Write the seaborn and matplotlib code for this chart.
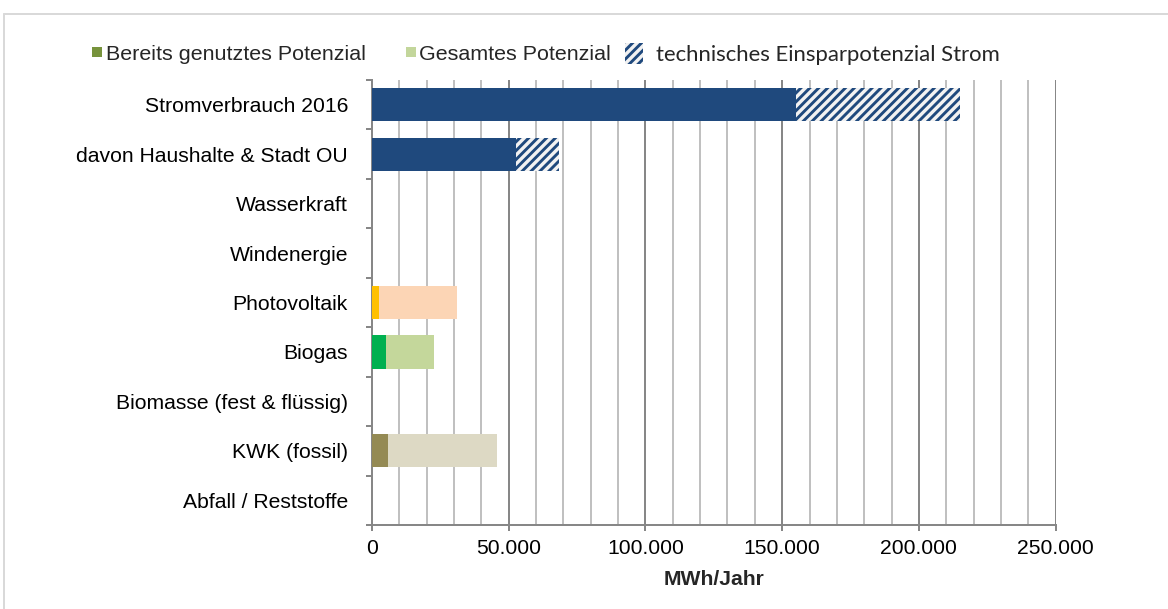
import matplotlib
matplotlib.use("Agg")
import matplotlib.pyplot as plt
from matplotlib.lines import Line2D
from matplotlib.patches import Patch
from matplotlib.ticker import FuncFormatter
import seaborn as sns

# ---------------- data ----------------
categories = ["Stromverbrauch 2016", "davon Haushalte & Stadt OU", "Wasserkraft",
              "Windenergie", "Photovoltaik", "Biogas", "Biomasse (fest & flüssig)",
              "KWK (fossil)", "Abfall / Reststoffe"]

verbrauch_cats = ["Stromverbrauch 2016", "davon Haushalte & Stadt OU"]
verbrauch_nach_einsparung = [155000, 52500]
einsparpotenzial = [60000, 15900]

erzeuger_cats = ["Wasserkraft", "Windenergie", "Photovoltaik", "Biogas",
                 "Biomasse (fest & flüssig)", "KWK (fossil)", "Abfall / Reststoffe"]
bereits_genutzt = [0, 0, 2500, 5000, 0, 5800, 0]
gesamtes_potenzial = [0, 0, 31000, 22500, 0, 45700, 0]

x_ticks = [0, 50000, 100000, 150000, 200000, 250000]
x_label = "MWh/Jahr"
legend_labels = ["Bereits genutztes Potenzial", "Gesamtes Potenzial",
                 "technisches Einsparpotenzial Strom"]

# ---------------- styles ----------------
BLUE = "#1F497D"
HATCH_BG = "#F2F2F2"
HATCH = "///"
used_colors = {"Wasserkraft": "#4F81BD", "Windenergie": "#4F81BD",
               "Photovoltaik": "#FFC000", "Biogas": "#00B050",
               "Biomasse (fest & flüssig)": "#77933C", "KWK (fossil)": "#948A54",
               "Abfall / Reststoffe": "#7F7F7F"}
total_colors = {"Wasserkraft": "#B9CDE5", "Windenergie": "#B9CDE5",
                "Photovoltaik": "#FCD5B5", "Biogas": "#C4D79B",
                "Biomasse (fest & flüssig)": "#D7E4BD", "KWK (fossil)": "#DDD9C4",
                "Abfall / Reststoffe": "#D9D9D9"}

sns.set_style("white")
plt.rcParams["font.family"] = ["Liberation Sans", "DejaVu Sans"]
plt.rcParams["hatch.linewidth"] = 2.6
plt.rcParams["hatch.color"] = BLUE

DPI = 80
fig = plt.figure(figsize=(1168 / DPI, 609 / DPI), dpi=DPI)
W, H = 1168, 609
ax = fig.add_axes([372 / W, 1 - 525 / H, (1055.6 - 372) / W, (525 - 80) / H])

FS = 19
BAR_H = 0.67

# hatched total consumption (behind)
verbrauch_gesamt = [a + b for a, b in zip(verbrauch_nach_einsparung, einsparpotenzial)]
sns.barplot(x=verbrauch_gesamt, y=verbrauch_cats, order=categories, orient="h",
            color=HATCH_BG, saturation=1, width=BAR_H, hatch=HATCH,
            edgecolor=BLUE, linewidth=0, ax=ax, zorder=3)
# solid consumption
sns.barplot(x=verbrauch_nach_einsparung, y=verbrauch_cats, order=categories, orient="h",
            color=BLUE, saturation=1, width=BAR_H, linewidth=0, ax=ax, zorder=4)
# total potential
sns.barplot(x=gesamtes_potenzial, y=erzeuger_cats, order=categories, orient="h",
            hue=erzeuger_cats, palette=total_colors, legend=False,
            saturation=1, width=BAR_H, linewidth=0, ax=ax, zorder=3)
# already used potential
sns.barplot(x=bereits_genutzt, y=erzeuger_cats, order=categories, orient="h",
            hue=erzeuger_cats, palette=used_colors, legend=False,
            saturation=1, width=BAR_H, linewidth=0, ax=ax, zorder=4)

# ---------------- axes ----------------
GRID_MAJ = "#878787"
GRID_MIN = "#C0C0C0"
ax.set_xlim(0, 250000)
ax.set_ylim(len(categories) - 0.5, -0.5)
ax.set_xticks(x_ticks)
ax.set_xticks(range(0, 250001, 10000), minor=True)
ax.xaxis.set_major_formatter(FuncFormatter(lambda v, p: f"{int(v):,}".replace(",", ".")))
ax.set_yticks(range(len(categories)))
ax.set_yticklabels(categories)
ax.set_yticks([i - 0.5 for i in range(len(categories) + 1)], minor=True)

ax.set_axisbelow(True)
ax.grid(False)
ax.xaxis.grid(True, which="minor", color=GRID_MIN, linewidth=1.8, zorder=0)
ax.xaxis.grid(True, which="major", color=GRID_MAJ, linewidth=1.8, zorder=1)

ax.tick_params(axis="x", which="major", length=5.4, width=1.8, color=GRID_MAJ,
               labelsize=FS, pad=7, labelcolor="black", direction="out", bottom=True)
ax.tick_params(axis="x", which="minor", length=0)
ax.tick_params(axis="y", which="major", length=0, pad=21.6, labelsize=FS,
               labelcolor="black")
ax.tick_params(axis="y", which="minor", length=5.4, width=1.8, color=GRID_MAJ,
               direction="out", left=True)

for s in ["top", "right"]:
    ax.spines[s].set_visible(False)
for s in ["left", "bottom"]:
    ax.spines[s].set_color(GRID_MAJ)
    ax.spines[s].set_linewidth(1.8)
ax.set_ylabel("")
ax.set_xlabel(x_label, fontsize=FS, fontweight="bold", labelpad=11)

# ---------------- legend ----------------
yc = 1 - 54 / H
h1 = Line2D([], [], marker="s", linestyle="none", markersize=9,
            markerfacecolor="#77933C", markeredgewidth=0)
h2 = Line2D([], [], marker="s", linestyle="none", markersize=9,
            markerfacecolor="#C3D69B", markeredgewidth=0)
h3 = Patch(facecolor=HATCH_BG, edgecolor=BLUE, linewidth=0, hatch=HATCH)

common = dict(loc="center left", frameon=False, borderpad=0, borderaxespad=0)
l1 = fig.legend(handles=[h1], labels=[legend_labels[0]], bbox_to_anchor=(92 / W, yc),
                handlelength=0.5, handletextpad=0.15, fontsize=FS + 0.3, **common)
l2 = fig.legend(handles=[h2], labels=[legend_labels[1]], bbox_to_anchor=(405.5 / W, yc),
                handlelength=0.5, handletextpad=0.15, fontsize=FS + 0.3, **common)
l3 = fig.legend(handles=[h3], labels=[legend_labels[2]], bbox_to_anchor=(625 / W, yc),
                handlelength=0.8, handleheight=1.05, handletextpad=0.6,
                fontsize=19.9, **common)
l3.get_texts()[0].set_family(["Lato", "DejaVu Sans"])

# outer chart frame (light grey)
fig.add_artist(Line2D([3.5 / W, 3.5 / W], [0, 1 - 14 / H], color="#D9D9D9",
                      linewidth=1.8, transform=fig.transFigure))
fig.add_artist(Line2D([3.5 / W, 1], [1 - 14 / H, 1 - 14 / H], color="#D9D9D9",
                      linewidth=1.8, transform=fig.transFigure))

fig.savefig("out.png", dpi=DPI, facecolor="white")
